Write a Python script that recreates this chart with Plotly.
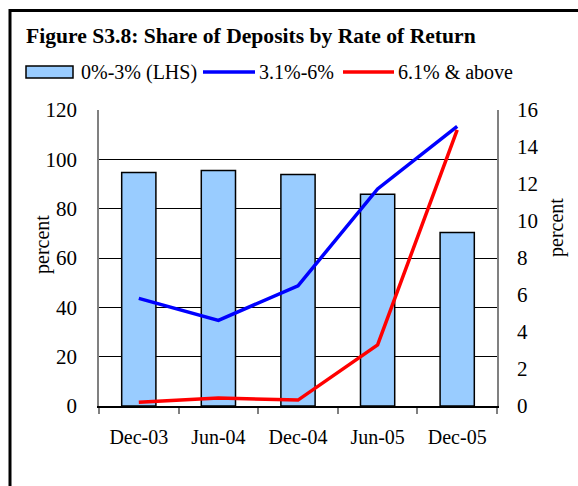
import plotly.graph_objects as go

categories = ["Dec-03", "Jun-04", "Dec-04", "Jun-05", "Dec-05"]
share_0_3 = [94.7, 95.5, 93.9, 85.8, 70.3]
share_3_6 = [5.82, 4.63, 6.50, 11.73, 15.12]
share_6_up = [0.20, 0.43, 0.32, 3.30, 14.92]
left_ticks = [0, 20, 40, 60, 80, 100, 120]
right_ticks = [0, 2, 4, 6, 8, 10, 12, 14, 16]

W, H = 578, 486
L, R, T, B = 99, 497, 110, 406
FONT = "Liberation Serif"


def px(x):
    return (x - L) / (R - L)


def py(y):
    return (B - y) / (B - T)


fig = go.Figure()
fig.add_trace(go.Bar(
    x=categories, y=share_0_3, name="0%-3% (LHS)",
    marker=dict(color="#99CCFF", line=dict(color="black", width=1.5)),
    width=0.43, yaxis="y",
))
fig.add_trace(go.Scatter(
    x=categories, y=share_3_6, name="3.1%-6%", mode="lines",
    line=dict(color="#0000FF", width=3.5), yaxis="y2",
))
fig.add_trace(go.Scatter(
    x=categories, y=share_6_up, name="6.1% & above", mode="lines",
    line=dict(color="#FF0000", width=3.5), yaxis="y2",
))

shapes = [
    # outer frame
    dict(type="rect", xref="paper", yref="paper",
         x0=px(10), x1=px(600), y0=py(520), y1=py(10.5),
         line=dict(color="black", width=3), fillcolor="rgba(0,0,0,0)", layer="above"),
    # legend swatches
    dict(type="rect", xref="paper", yref="paper",
         x0=px(26), x1=px(73), y0=py(78), y1=py(66),
         line=dict(color="black", width=1.5), fillcolor="#99CCFF"),
    dict(type="line", xref="paper", yref="paper",
         x0=px(203), x1=px(255), y0=py(72), y1=py(72),
         line=dict(color="#0000FF", width=3.5)),
    dict(type="line", xref="paper", yref="paper",
         x0=px(343), x1=px(394), y0=py(72), y1=py(72),
         line=dict(color="#FF0000", width=3.5)),
]

annotations = [
    dict(text="<b>Figure S3.8: Share of Deposits by Rate of Return</b>",
         xref="paper", yref="paper", x=px(24), y=py(36),
         xanchor="left", yanchor="middle", showarrow=False,
         font=dict(family=FONT, size=21.6, color="black")),
    dict(text="0%-3% (LHS)", xref="paper", yref="paper", x=px(79), y=py(72),
         xanchor="left", yanchor="middle", showarrow=False,
         font=dict(family=FONT, size=20, color="black")),
    dict(text="3.1%-6%", xref="paper", yref="paper", x=px(257), y=py(72),
         xanchor="left", yanchor="middle", showarrow=False,
         font=dict(family=FONT, size=20, color="black")),
    dict(text="6.1% & above", xref="paper", yref="paper", x=px(396), y=py(72),
         xanchor="left", yanchor="middle", showarrow=False,
         font=dict(family=FONT, size=20, color="black")),
    dict(text="percent", xref="paper", yref="paper", x=px(43), y=py(245),
         xanchor="center", yanchor="middle", showarrow=False, textangle=-90,
         font=dict(family=FONT, size=20, color="black")),
    dict(text="percent", xref="paper", yref="paper", x=px(556), y=py(228),
         xanchor="center", yanchor="middle", showarrow=False, textangle=-90,
         font=dict(family=FONT, size=20, color="black")),
]

fig.update_layout(
    width=W, height=H,
    margin=dict(l=L, r=W - R, t=T, b=H - B, pad=0),
    paper_bgcolor="white", plot_bgcolor="white",
    showlegend=False,
    font=dict(family=FONT, size=20, color="black"),
    shapes=shapes, annotations=annotations,
    xaxis=dict(
        type="category", tickson="boundaries", ticks="outside", ticklen=6,
        tickcolor="#808080", tickwidth=1.5,
        showline=True, linecolor="black", linewidth=1.5,
        showgrid=False, ticklabelstandoff=12,
        tickfont=dict(family=FONT, size=20, color="black"),
        range=[-0.5, 4.5],
    ),
    yaxis=dict(
        range=[0, 120], tickvals=left_ticks, ticks="",
        showgrid=True, gridcolor="black", gridwidth=1,
        showline=True, linecolor="#808080", linewidth=1.5,
        zeroline=False, ticklabelstandoff=16,
        tickfont=dict(family=FONT, size=21, color="black"),
    ),
    yaxis2=dict(
        range=[0, 16], tickvals=right_ticks, ticks="",
        overlaying="y", side="right", showgrid=False,
        showline=True, linecolor="#808080", linewidth=1.5,
        zeroline=False, ticklabelstandoff=14,
        tickfont=dict(family=FONT, size=21, color="black"),
    ),
)

fig.write_html(
    "out.html",
    config={"displayModeBar": False},
    post_script="document.body.style.margin='0';document.body.style.overflow='hidden';",
)
